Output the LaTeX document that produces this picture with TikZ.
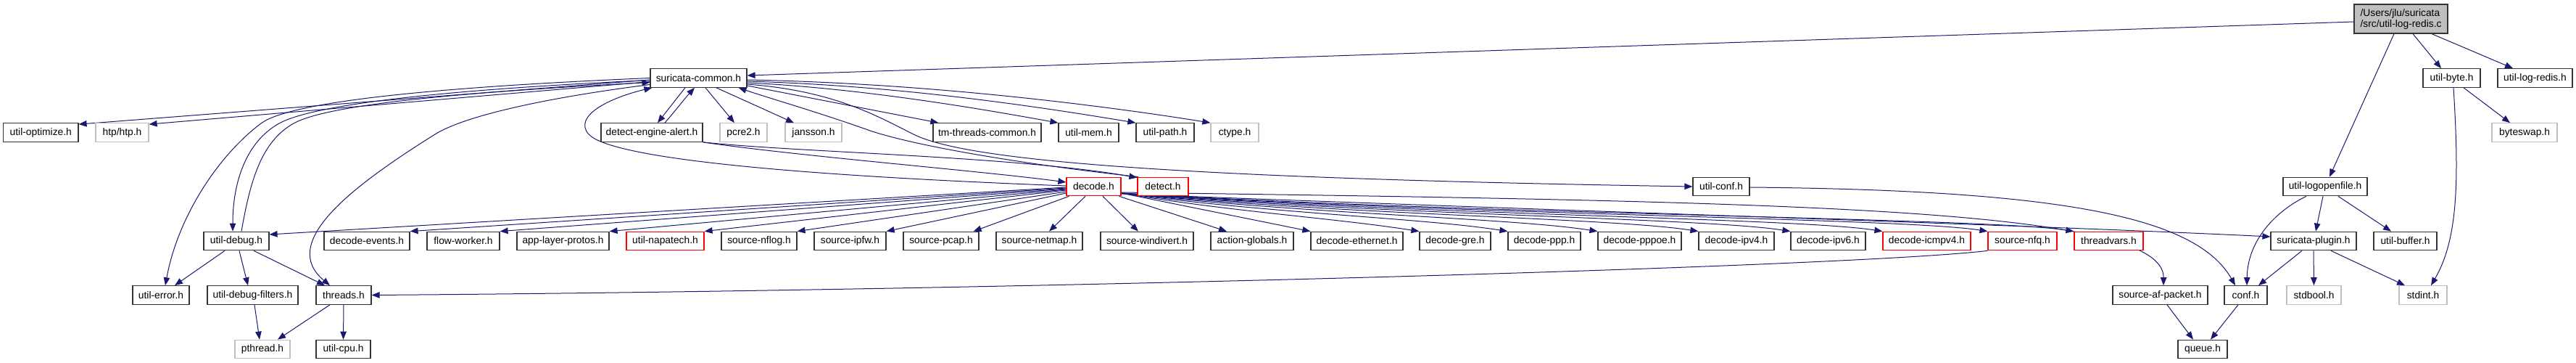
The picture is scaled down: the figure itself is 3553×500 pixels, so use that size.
\documentclass[tikz,border=0pt]{standalone}
\usepackage{fontspec}
\setmainfont{Liberation Sans}
\usetikzlibrary{arrows.meta}
\definecolor{edgec}{HTML}{191970}
\definecolor{grayb}{HTML}{BFBFBF}
\definecolor{rootf}{HTML}{BFBFBF}
\pgfdeclarelayer{bg}
\pgfsetlayers{bg,main}
\begin{document}
\begin{tikzpicture}[x=1pt,y=-1pt,
  nb/.style={draw=black!80, line width=1.2pt, fill=white, inner sep=0pt, minimum height=25.5pt, font=\fontsize{13.8}{15}\selectfont, text=black},
  ext/.style={nb, draw=grayb},
  trunc/.style={nb, draw=red},
  rootn/.style={nb, fill=rootf, minimum height=40pt, align=left},
  e/.style={draw=edgec, line width=1pt, -{Triangle[length=11pt,width=8.5pt]}}
]
\useasboundingbox (0,0) rectangle (3553,500);
% root
\node[rootn, minimum width=129pt] (root) at (3311.5,26) {/Users/jlu/suricata\\/src/util-log-redis.c};
% row 1
\node[nb, minimum width=133pt] (sc) at (963.5,107.5) {suricata-common.h};
\node[nb, minimum width=79pt] (ubyte) at (3381.5,107.5) {util-byte.h};
\node[nb, minimum width=103pt] (ulogr) at (3496.5,107.5) {util-log-redis.h};
% row 2
\node[nb, minimum width=103.4pt] (uopt) at (56.3,182.5) {util-optimize.h};
\node[ext, minimum width=73pt] (htp) at (168.5,182.5) {htp/htp.h};
\node[nb, minimum width=140pt] (dea) at (899,182.5) {detect-engine-alert.h};
\node[ext, minimum width=65pt] (pcre) at (1025.5,182.5) {pcre2.h};
\node[ext, minimum width=78pt] (jansson) at (1122,182.5) {jansson.h};
\node[nb, minimum width=149pt] (tmtc) at (1361.5,182.5) {tm-threads-common.h};
\node[nb, minimum width=83pt] (umem) at (1501.5,182.5) {util-mem.h};
\node[nb, minimum width=80pt] (upath) at (1607,182.5) {util-path.h};
\node[ext, minimum width=66pt] (ctype) at (1703,182.5) {ctype.h};
\node[ext, minimum width=90pt] (bswap) at (3482,182.5) {byteswap.h};
% row 3
\node[trunc, minimum width=75pt] (decode) at (1508.5,257) {decode.h};
\node[trunc, minimum width=70pt] (detect) at (1604,257) {detect.h};
\node[nb, minimum width=78pt] (uconf) at (2374,257) {util-conf.h};
\node[nb, minimum width=116pt] (ulof) at (3207,257) {util-logopenfile.h};
% row 4
\node[nb, minimum width=90pt] (udebug) at (326,332) {util-debug.h};
\node[nb, minimum width=118pt] (devents) at (506,332) {decode-events.h};
\node[nb, minimum width=100pt] (flow) at (639,332) {flow-worker.h};
\node[nb, minimum width=127pt] (alp) at (776.5,332) {app-layer-protos.h};
\node[trunc, minimum width=107pt] (napa) at (917.5,332) {util-napatech.h};
\node[nb, minimum width=104pt] (nflog) at (1047,332) {source-nflog.h};
\node[nb, minimum width=99pt] (ipfw) at (1172.5,332) {source-ipfw.h};
\node[nb, minimum width=104pt] (pcap) at (1298,332) {source-pcap.h};
\node[nb, minimum width=119pt] (netmap) at (1433.5,332) {source-netmap.h};
\node[nb, minimum width=128pt] (windivert) at (1582,332) {source-windivert.h};
\node[nb, minimum width=114pt] (actg) at (1727,332) {action-globals.h};
\node[nb, minimum width=127pt] (deth) at (1871.5,332) {decode-ethernet.h};
\node[nb, minimum width=98pt] (dgre) at (2007,332) {decode-gre.h};
\node[nb, minimum width=100pt] (dppp) at (2130,332) {decode-ppp.h};
\node[nb, minimum width=115pt] (dpppoe) at (2261.5,332) {decode-pppoe.h};
\node[nb, minimum width=104pt] (dipv4) at (2395,332) {decode-ipv4.h};
\node[nb, minimum width=103pt] (dipv6) at (2521.5,332) {decode-ipv6.h};
\node[trunc, minimum width=121pt] (dicmp) at (2657.5,332) {decode-icmpv4.h};
\node[trunc, minimum width=95pt] (nfq) at (2789.5,332) {source-nfq.h};
\node[trunc, minimum width=95pt] (tvars) at (2908.5,332) {threadvars.h};
\node[nb, minimum width=118pt] (splug) at (3191,332) {suricata-plugin.h};
\node[nb, minimum width=87pt] (ubuf) at (3317.5,332) {util-buffer.h};
% row 5
\node[nb, minimum width=78pt] (uerr) at (222,406.5) {util-error.h};
\node[nb, minimum width=125pt] (udf) at (348.5,406.5) {util-debug-filters.h};
\node[nb, minimum width=76pt] (threads) at (474,406.5) {threads.h};
\node[nb, minimum width=131pt] (afp) at (2979.5,406.5) {source-af-packet.h};
\node[nb, minimum width=59pt] (conf) at (3097.5,406.5) {conf.h};
\node[ext, minimum width=75pt] (stdbool) at (3191.5,406.5) {stdbool.h};
\node[ext, minimum width=66pt] (stdint) at (3342,406.5) {stdint.h};
% row 6
\node[ext, minimum width=76pt] (pthread) at (362,481) {pthread.h};
\node[nb, minimum width=75pt] (ucpu) at (473.5,481) {util-cpu.h};
\node[nb, minimum width=68pt] (queue) at (3038,481) {queue.h};

\begin{pgfonlayer}{bg}
% from root
\draw[e] ([yshift=-4pt]root.west) -- ([yshift=3.5pt]sc.east);
\draw[e] ([xshift=-9.5pt]root.south) -- ([xshift=6pt]ulof.north);
\draw[e] ([xshift=16.5pt]root.south) -- ([xshift=-14.5pt]ubyte.north);
\draw[e] ([xshift=42.5pt]root.south) -- ([xshift=-30.5pt]ulogr.north);
% util-byte
\draw[e] ([xshift=16.5pt]ubyte.south) -- ([xshift=-20pt]bswap.north);
\draw[e] ([xshift=2.5pt]ubyte.south) .. controls (3392,250) and (3390,330) .. ([xshift=11pt]stdint.north);
% util-logopenfile
\draw[e] ([xshift=-26pt]ulof.south) .. controls (3140,290) and (3100,330) .. ([xshift=1.5pt]conf.north);
\draw[e] ([xshift=-3pt]ulof.south) -- ([xshift=3pt]splug.north);
\draw[e] ([xshift=18pt]ulof.south) -- ([xshift=-19.5pt]ubuf.north);
% suricata-plugin
\draw[e] ([xshift=-16pt]splug.south) -- ([xshift=17.5pt]conf.north);
\draw[e] (splug.south) -- (stdbool.north);
\draw[e] ([xshift=24pt]splug.south) -- ([xshift=-25pt]stdint.north);
% queue
\draw[e] ([xshift=-10.5pt]conf.south) -- ([xshift=11pt]queue.north);
\draw[e] ([xshift=9.5pt]afp.south) -- ([xshift=-13pt]queue.north);
% util-conf
\draw[e] ([yshift=-1pt]uconf.east) .. controls (2850,262) and (3030,300) .. ([xshift=-14.5pt]conf.north);
% decode.h right side
\draw[e] ([yshift=-8pt]decode.east) .. controls (2500,278) and (2985,288) .. ([xshift=4.5pt]afp.north);
\draw[e] ([yshift=-10pt]decode.east) .. controls (2200,292) and (2800,310) .. ([yshift=6pt]splug.west);
\draw[e] ([yshift=-9pt]decode.east) -- (deth.north west);
\draw[e] ([yshift=-9pt]decode.east) .. controls (1700,292) and (1838,300) .. (dgre.north west);
\draw[e] ([yshift=-9pt]decode.east) .. controls (1750,294) and (1960,300) .. (dppp.north west);
\draw[e] ([yshift=-9pt]decode.east) .. controls (1800,295) and (2084,300) .. (dpppoe.north west);
\draw[e] ([yshift=-9pt]decode.east) .. controls (1850,296) and (2223,300) .. (dipv4.north west);
\draw[e] ([yshift=-9pt]decode.east) .. controls (1900,296) and (2350,300) .. (dipv6.north west);
\draw[e] ([yshift=-9pt]decode.east) .. controls (1950,296) and (2477,300) .. (dicmp.north west);
\draw[e] ([yshift=-9pt]decode.east) .. controls (2000,296) and (2622,300) .. (nfq.north west);
\draw[e] ([yshift=-9pt]decode.east) .. controls (2050,296) and (2741,300) .. (tvars.north west);
% decode.h bottom
\draw[e] ([xshift=4pt]decode.south west) -- ([xshift=-8pt]pcap.north east);
\draw[e] ([xshift=-11.5pt]decode.south) -- ([xshift=13.5pt]netmap.north);
\draw[e] ([xshift=12.5pt]decode.south) -- ([xshift=-12pt]windivert.north);
\draw[e] ([xshift=-3pt]decode.south east) -- ([xshift=-35pt]actg.north);
% decode.h left side
\draw[e] ([yshift=-1pt]decode.west) -- ([yshift=9pt]udebug.east);
\draw[e] ([yshift=-2pt]decode.west) -- (devents.north east);
\draw[e] ([yshift=-3pt]decode.west) -- (flow.north east);
\draw[e] ([yshift=-4pt]decode.west) -- (alp.north east);
\draw[e] ([yshift=-5pt]decode.west) -- (napa.north east);
\draw[e] ([yshift=-7pt]decode.west) -- (nflog.north east);
\draw[e] ([yshift=-9pt]decode.west) -- (ipfw.north east);
% decode.h -> suricata-common.h loop
\draw[e] ([yshift=1pt]decode.west) .. controls (1050,240) and (840,215) .. (812,185) .. controls (790,160) and (840,135) .. ([xshift=3pt]sc.south west);
% suricata-common left
\draw[e] ([yshift=-2.5pt]sc.west) -- ([yshift=-2pt]uopt.north east);
\draw[e] ([yshift=-5pt]sc.west) -- ([yshift=-2pt]htp.north east);
\draw[e] (sc.west) .. controls (600,120) and (400,140) .. (360,170) .. controls (300,215) and (245,300) .. ([xshift=6pt]uerr.north);
\draw[e] ([yshift=-3pt]sc.west) .. controls (600,124) and (430,145) .. (385,170) .. controls (340,195) and (321,250) .. ([xshift=-5pt]udebug.north);
\draw[e] ([xshift=7pt]udebug.north) .. controls (345,250) and (360,195) .. (405,170) .. controls (450,145) and (620,128) .. ([yshift=-6pt]sc.west);
\draw[e] ([yshift=-9pt]sc.west) .. controls (750,135) and (640,160) .. (600,185) .. controls (480,260) and (385,335) .. ([xshift=-19pt]threads.north);
% suricata-common bottom
\draw[e] ([xshift=-18.5pt]sc.south) -- ([xshift=8pt]dea.north);
\draw[e] ([xshift=18pt]dea.north) .. controls (932,152) and (945,135) .. ([xshift=-5.5pt]sc.south);
\draw[e] ([xshift=9.5pt]sc.south) -- ([xshift=-12.5pt]pcre.north);
\draw[e] ([xshift=24.5pt]sc.south) -- ([xshift=-27pt]jansson.north);
% detect-engine-alert
\draw[e] (dea.south east) .. controls (1100,210) and (1400,215) .. ([yshift=-1pt]detect.north west);
\draw[e] (dea.south east) .. controls (1100,215) and (1350,235) .. ([yshift=6pt]decode.west);
% detect.h -> suricata-common.h
\draw[e] ([xshift=2pt]detect.north west) .. controls (1400,225) and (1260,200) .. (1200,180) .. controls (1130,155) and (1060,135) .. ([xshift=-12pt]sc.south east);
% suricata-common right
\draw[e] ([yshift=-10.5pt]sc.east) -- ([xshift=8pt]tmtc.north west);
\draw[e] ([yshift=-6.5pt]sc.east) .. controls (1200,122) and (1380,155) .. (umem.north west);
\draw[e] ([yshift=-4.5pt]sc.east) .. controls (1250,118) and (1450,150) .. (upath.north west);
\draw[e] ([yshift=-2.5pt]sc.east) .. controls (1300,115) and (1550,150) .. (ctype.north west);
\draw[e] ([yshift=-8.5pt]sc.east) .. controls (1150,125) and (1210,160) .. (1260,185) .. controls (1330,220) and (1600,245) .. (uconf.west);
% util-debug
\draw[e] ([xshift=-16pt]udebug.south) -- ([xshift=19pt]uerr.north);
\draw[e] ([xshift=4pt]udebug.south) -- ([xshift=-6.5pt]udf.north);
\draw[e] ([xshift=24pt]udebug.south) -- ([xshift=-26pt]threads.north);
\draw[e] ([xshift=2.5pt]udf.south) -- ([xshift=-4pt]pthread.north);
\draw[e] ([xshift=-19pt]threads.south) -- ([xshift=21pt]pthread.north);
\draw[e] (threads.south) -- (ucpu.north);
\draw[e] (nfq.south west) .. controls (2550,368) and (1400,400) .. (threads.east);
\end{pgfonlayer}
\end{tikzpicture}
\end{document}
